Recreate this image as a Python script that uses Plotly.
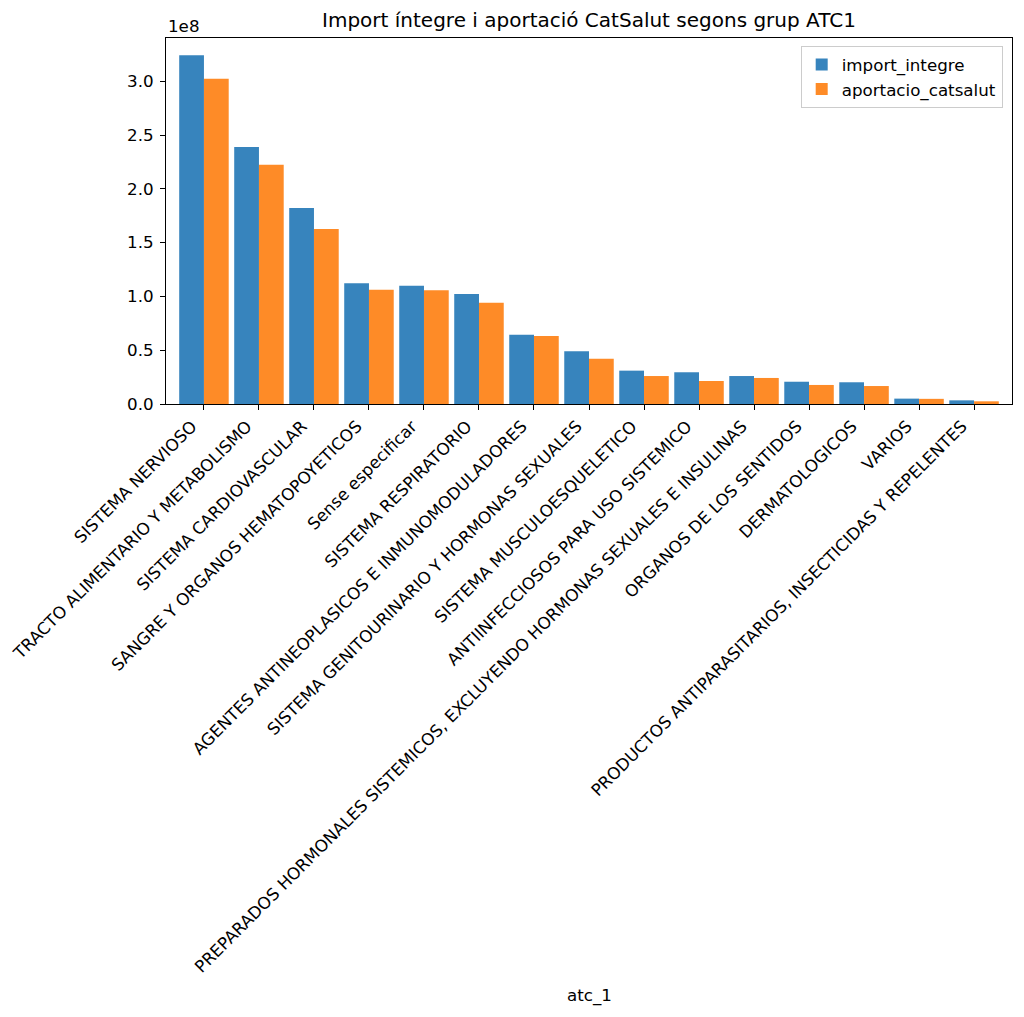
import plotly.graph_objects as go

categories = [
    "SISTEMA NERVIOSO",
    "TRACTO ALIMENTARIO Y METABOLISMO",
    "SISTEMA CARDIOVASCULAR",
    "SANGRE Y ORGANOS HEMATOPOYETICOS",
    "Sense especificar",
    "SISTEMA RESPIRATORIO",
    "AGENTES ANTINEOPLASICOS E INMUNOMODULADORES",
    "SISTEMA GENITOURINARIO Y HORMONAS SEXUALES",
    "SISTEMA MUSCULOESQUELETICO",
    "ANTIINFECCIOSOS PARA USO SISTEMICO",
    "PREPARADOS HORMONALES SISTEMICOS, EXCLUYENDO HORMONAS SEXUALES E INSULINAS",
    "ORGANOS DE LOS SENTIDOS",
    "DERMATOLOGICOS",
    "VARIOS",
    "PRODUCTOS ANTIPARASITARIOS, INSECTICIDAS Y REPELENTES",
]
import_integre = [3.242e8, 2.389e8, 1.822e8, 1.122e8, 1.100e8, 1.023e8, 0.644e8,
                  0.490e8, 0.310e8, 0.295e8, 0.260e8, 0.207e8, 0.202e8, 0.050e8, 0.034e8]
aportacio_catsalut = [3.024e8, 2.225e8, 1.627e8, 1.063e8, 1.057e8, 0.942e8, 0.632e8,
                      0.421e8, 0.260e8, 0.214e8, 0.242e8, 0.177e8, 0.167e8, 0.048e8, 0.025e8]
ytick_vals = [0.0, 0.5e8, 1.0e8, 1.5e8, 2.0e8, 2.5e8, 3.0e8]
ytick_text = ["0.0", "0.5", "1.0", "1.5", "2.0", "2.5", "3.0"]

FONT = "DejaVu Sans"
FS = 16.7

fig = go.Figure()
fig.add_trace(go.Bar(x=categories, y=import_integre, name="import_integre",
                     marker=dict(color="#3784bd", line=dict(width=0))))
fig.add_trace(go.Bar(x=categories, y=aportacio_catsalut, name="aportacio_catsalut",
                     marker=dict(color="#fe8b27", line=dict(width=0))))

W, H = 1008, 1001
L, T = 158, 30
PW, PH = 846, 366
R = W - L - PW
B = H - T - PH
fig.update_layout(
    width=W, height=H,
    margin=dict(l=L, r=R, t=T, b=B, autoexpand=False),
    paper_bgcolor="white", plot_bgcolor="white",
    font=dict(family=FONT, size=FS, color="black"),
    barmode="group", bargap=0.1, bargroupgap=0,
    showlegend=True,
    legend=dict(x=0.989, y=0.978, xanchor="right", yanchor="top",
                bgcolor="rgba(255,255,255,0.8)", bordercolor="#cccccc", borderwidth=1,
                font=dict(family=FONT, size=FS)),
    title=dict(text="Import íntegre i aportació CatSalut segons grup ATC1",
               x=(L + PW / 2) / W, xanchor="center",
               y=1 - 12 / H, yanchor="middle",
               font=dict(family=FONT, size=20)),
)
fig.update_xaxes(
    type="category", range=[-0.69, 14.69], tickangle=-45,
    showline=True, linecolor="black", linewidth=1, mirror=True,
    ticks="outside", ticklen=5, tickcolor="black", showgrid=False,
    tickfont=dict(family=FONT, size=FS),
    ticklabelshift=-12,
    automargin=False,
)
fig.update_yaxes(
    range=[0, 3.402e8], tickvals=ytick_vals, ticktext=ytick_text,
    showline=True, linecolor="black", linewidth=1, mirror=True,
    ticks="outside", ticklen=5, tickcolor="black", showgrid=False, zeroline=False,
    tickfont=dict(family=FONT, size=FS),
    ticklabelstandoff=3,
    automargin=False,
)
fig.add_annotation(text="1e8", xref="paper", yref="paper", x=0, y=1,
                   xanchor="left", yanchor="bottom", showarrow=False,
                   font=dict(family=FONT, size=FS))
fig.add_annotation(text="atc_1", xref="paper", yref="paper", x=0.5, y=-(995 - 404) / PH,
                   xanchor="center", yanchor="middle", showarrow=False,
                   font=dict(family=FONT, size=FS))

fig.write_html("out.html")
